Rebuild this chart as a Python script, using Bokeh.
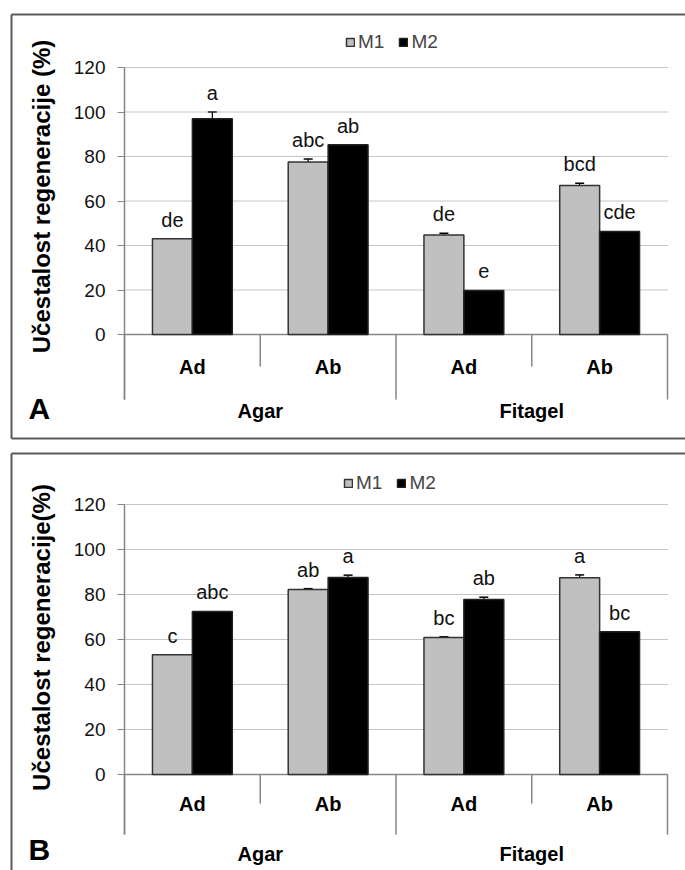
import math
from bokeh.plotting import figure
from bokeh.models import (Range1d, FixedTicker, LinearAxis, Legend, LegendItem,
                          ColumnDataSource, Whisker, TeeHead)
from bokeh.transform import dodge
from bokeh.layouts import column
from bokeh.embed import file_html
from bokeh.resources import INLINE
from bokeh.core.properties import value

# ---------------- data ----------------
media = ["Agar", "Fitagel"]
subs = ["Ad", "Ab"]
series = ["M1", "M2"]
y_ticks = [0, 20, 40, 60, 80, 100, 120]

a_m1 = [43.0, 77.5, 44.7, 67.0]
a_m1_err = [0.0, 1.4, 0.8, 1.0]
a_m2 = [97.0, 85.3, 19.8, 46.3]
a_m2_err = [3.0, 0.0, 0.0, 0.0]
a_m1_lab = ["de", "abc", "de", "bcd"]
a_m2_lab = ["a", "ab", "e", "cde"]

b_m1 = [53.2, 82.2, 60.9, 87.5]
b_m1_err = [0.0, 0.4, 0.3, 1.2]
b_m2 = [72.5, 87.6, 77.8, 63.5]
b_m2_err = [0.0, 1.0, 1.0, 0.0]
b_m1_lab = ["c", "ab", "bc", "a"]
b_m2_lab = ["abc", "a", "ab", "bc"]

FONT_NAME = "Liberation Sans"
FONT = value(FONT_NAME)
GRAY = "#c0c0c0"
AXIS = "#868686"
BORDER = "#5a5a5a"

W = 685                      # canvas width (page x 0..685)
PLOT_L, PLOT_R = 124, 667    # page x of category axis ends


def build(m1, m1e, m2, m2e, l1, l2, ytitle, letter, g):
    """g: page-pixel layout of one panel."""
    top, H = g["top"], g["H"]
    ppx = (PLOT_R - PLOT_L) / 4.0
    ppu = (g["y0"] - g["y120"]) / 120.0
    x_start = -PLOT_L / ppx
    x_end = 4 + (W - PLOT_R) / ppx
    y_end = 120 + (g["y120"] - top) / ppu
    y_start = -(top + H - g["y0"]) / ppu

    def X(px):
        return x_start + px / ppx

    def Y(py):
        return y_end - (py - top) / ppu

    p = figure(x_range=Range1d(x_start, x_end), y_range=Range1d(y_start, y_end),
               width=W, height=H, output_backend="svg", toolbar_location=None,
               x_axis_location=None, y_axis_location=None, tools="")
    p.min_border = 0
    p.outline_line_color = None
    p.background_fill_color = "white"
    p.border_fill_color = "white"
    p.xgrid.grid_line_color = None
    p.ygrid.grid_line_color = None

    cats = [i + 0.5 for i in range(4)]
    bounds = [float(i) for i in range(5)]

    # panel box (left, top, bottom edges)
    box = ColumnDataSource(dict(x0=[X(11), X(11), X(11)], y0=[Y(g["bt"]), Y(g["bt"]), Y(g["bb"])],
                                x1=[X(11), X(720), X(720)], y1=[Y(g["bb"]), Y(g["bt"]), Y(g["bb"])]))
    p.segment("x0", "y0", "x1", "y1", source=box, line_color=BORDER, line_width=2)

    # dotted grid lines at the tick values
    p.segment(x0=[bounds[0]] * len(y_ticks), y0=y_ticks, x1=[bounds[-1]] * len(y_ticks),
              y1=y_ticks, line_color="#8a8a8a", line_dash="1 1", line_width=1)

    # y axis drawn at category-axis start
    ticker = FixedTicker(ticks=y_ticks, minor_ticks=[])
    ax = LinearAxis(ticker=ticker, fixed_location=bounds[0], bounds=(g["sep_out"], 120))
    ax.axis_line_color = AXIS
    ax.axis_line_width = 1.5
    ax.major_tick_line_color = AXIS
    ax.major_tick_out = 7
    ax.major_tick_in = 0
    ax.minor_tick_line_color = None
    ax.major_label_standoff = 12
    ax.major_label_text_font = FONT_NAME
    ax.major_label_text_font_size = "19px"
    ax.major_label_text_color = "#111111"
    p.add_layout(ax, "left")

    # x axis line and category separators
    p.segment(x0=[bounds[0]], y0=[0], x1=[bounds[-1]], y1=[0], line_color=AXIS, line_width=1.5)
    sep_len = [g["sep_out"] if i % 2 == 0 else g["sep_in"] for i in range(5)]
    p.segment(x0=bounds, y0=[0] * 5, x1=bounds, y1=sep_len, line_color=AXIS, line_width=1.5)

    # bars
    src = ColumnDataSource(dict(x=cats, m1=m1, m2=m2,
                                m1t=[v + e for v, e in zip(m1, m1e)],
                                m2t=[v + e for v, e in zip(m2, m2e)],
                                l1=l1, l2=l2))
    r1 = p.vbar(x=dodge("x", -0.147), top="m1", bottom=0, width=0.294,
                source=src, fill_color=GRAY, line_color="#333333", line_width=1.5)
    r2 = p.vbar(x=dodge("x", 0.147), top="m2", bottom=0, width=0.294,
                source=src, fill_color="black", line_color="#222222", line_width=1.5)

    # error bars
    for vals, errs, off in ((m1, m1e, -0.147), (m2, m2e, 0.147)):
        idx = [i for i, e in enumerate(errs) if e > 0]
        if not idx:
            continue
        es = ColumnDataSource(dict(x=[cats[i] for i in idx],
                                   lo=[vals[i] - errs[i] for i in idx],
                                   hi=[vals[i] + errs[i] for i in idx]))
        p.add_layout(Whisker(base=dodge("x", off), upper="hi", lower="lo", source=es,
                             line_color="black", line_width=1.2,
                             upper_head=TeeHead(size=9, line_color="black", line_width=1.5),
                             lower_head=TeeHead(size=9, line_color="black", line_width=1.5)))

    # significance letters
    for col, lab, off in (("m1t", "l1", -0.147), ("m2t", "l2", 0.147)):
        p.text(x=dodge("x", off), y=col, text=lab, source=src,
               text_align="center", text_baseline="middle", y_offset=-g["lab_off"],
               text_font=FONT, text_font_size="20px", text_color="#111111")

    # category labels
    p.text(x=cats, y=[Y(g["sub_c"])] * 4, text=[s for m in media for s in subs],
           text_align="center", text_baseline="middle", text_font=FONT,
           text_font_size="20px", text_font_style="bold", text_color="black")
    grp_x = [(cats[0] + cats[1]) / 2, (cats[2] + cats[3]) / 2]
    p.text(x=grp_x, y=[Y(g["grp_c"])] * 2, text=media,
           text_align="center", text_baseline="middle", text_font=FONT,
           text_font_size="20px", text_font_style="bold", text_color="black")

    # y title and panel letter
    p.text(x=[X(41)], y=[Y(g["title_c"])], text=[ytitle], angle=math.pi / 2,
           text_align="center", text_baseline="middle", text_font=FONT,
           text_font_size="24px", text_font_style="bold", text_color="black")
    p.text(x=[X(28)], y=[Y(g["let_c"])], text=[letter],
           text_align="left", text_baseline="middle", text_font=FONT,
           text_font_size="30px", text_font_style="bold", text_color="black")

    legend = Legend(items=[LegendItem(label=series[0], renderers=[r1]),
                           LegendItem(label=series[1], renderers=[r2])],
                    orientation="horizontal",
                    location=(g["leg_x"], top + H - g["leg_b"]),
                    glyph_width=10, glyph_height=10, label_standoff=3, spacing=14,
                    padding=0, margin=0, border_line_color=None,
                    background_fill_alpha=0, label_text_font=FONT_NAME,
                    label_text_font_size="19px")
    p.add_layout(legend)
    return p


geomA = dict(top=0, H=446, y120=67, y0=334, bt=14, bb=438, sep_out=-29.2, sep_in=-14.4,
             sub_c=366, grp_c=410, let_c=408, title_c=196, lab_off=19,
             leg_x=345, leg_b=53)
geomB = dict(top=446, H=424, y120=504, y0=774, bt=453, bb=900, sep_out=-26.7, sep_in=-12.9,
             sub_c=803, grp_c=853, let_c=849, title_c=637, lab_off=19,
             leg_x=343, leg_b=494)

pA = build(a_m1, a_m1_err, a_m2, a_m2_err, a_m1_lab, a_m2_lab,
           "Učestalost regeneracije (%)", "A", geomA)
pB = build(b_m1, b_m1_err, b_m2, b_m2_err, b_m1_lab, b_m2_lab,
           "Učestalost regeneracije(%)", "B", geomB)

layout = column(pA, pB, spacing=0)
open("out.html", "w").write(file_html(layout, INLINE))
